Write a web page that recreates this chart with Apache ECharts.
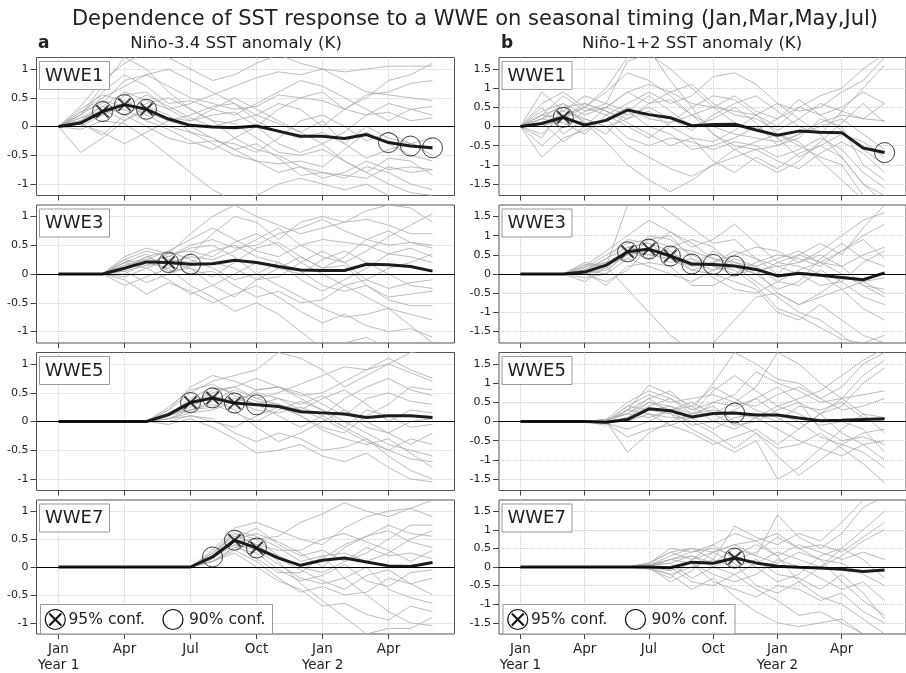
<!DOCTYPE html>
<html>
<head>
<meta charset="utf-8">
<title>Dependence of SST response to a WWE on seasonal timing</title>
<script src="https://cdn.jsdelivr.net/npm/echarts@6/dist/echarts.min.js"></script>
<style>
  html, body { margin: 0; padding: 0; background: #fff; }
  #chart { width: 906px; height: 673px; }
</style>
</head>
<body>
<div id="chart"></div>
<script>
// Month axis: Jan of year 1 through Jun of year 2 (index 0..17)
const months = ['Jan','Feb','Mar','Apr','May','Jun','Jul','Aug','Sep','Oct','Nov','Dec',
                'Jan','Feb','Mar','Apr','May','Jun'];
const xTickValues = [0, 3, 6, 9, 12, 15];
const xTickLabels = ['Jan\nYear 1', 'Apr', 'Jul', 'Oct', 'Jan\nYear 2', 'Apr'];
const yTicksN34 = [-1, -0.5, 0, 0.5, 1];
const yTicksN12 = [-1.5, -1, -0.5, 0, 0.5, 1, 1.5];

// ---------- Niño-3.4, WWE in January ----------
const n34_wwe1_members = [
  [0,0.10,0.35,0.60,0.45,0.30,0.40,0.55,0.70,0.85,0.95,0.90,1.00,0.95,1.00,1.05,1.05,1.05],
  [0,0.20,0.70,1.20,1.00,0.60,0.30,0.10,-0.20,-0.40,-0.50,-0.70,-0.90,-0.80,-0.60,-0.75,-0.70,-0.75],
  [0,-0.45,-0.20,0.10,0.35,0.20,-0.10,-0.30,-0.50,-0.60,-0.65,-0.60,-0.70,-0.40,-0.10,-0.30,-0.50,-0.60],
  [0,0.25,0.40,0.80,0.90,0.70,0.50,0.40,0.30,0.35,0.55,0.50,0.60,0.30,0.20,0.40,0.30,0.20],
  [0,0.05,-0.15,0.20,0.40,0.50,0.30,0.10,0.05,-0.20,-0.45,-0.50,-0.40,-0.60,-0.80,-1.00,-1.15,-1.20],
  [0,0.30,0.55,0.45,0.25,0.10,0.20,0.35,0.40,0.10,-0.10,-0.20,-0.10,-0.30,0.00,-0.20,-0.30,-0.50],
  [0,0.15,0.25,0.30,0.10,-0.05,-0.25,-0.40,-0.20,0.00,0.30,0.50,0.45,0.30,0.55,0.60,0.75,0.80],
  [0,-0.05,0.10,0.05,-0.20,-0.50,-0.80,-1.10,-1.30,-1.20,-1.00,-0.90,-1.00,-1.10,-1.00,-1.20,-1.40,-1.50],
  [0,0.20,0.45,0.35,0.55,0.35,0.15,0.00,0.10,0.20,0.05,-0.10,0.10,-0.30,-0.55,-0.40,-0.30,-0.20],
  [0,0.10,0.20,0.40,0.20,0.00,-0.10,-0.20,-0.40,-0.60,-0.80,-0.70,-0.80,-0.90,-0.70,-0.80,-1.00,-1.10],
  [0,0.35,0.80,1.10,1.30,1.20,1.00,0.80,0.90,1.10,1.25,1.10,1.00,0.80,0.60,0.55,0.50,0.45],
  [0,0.10,0.30,0.10,0.30,0.15,0.10,0.20,0.25,0.00,-0.30,-0.45,-0.30,-0.10,0.20,0.25,0.10,0.15],
  [0,0.05,-0.10,-0.30,-0.10,0.10,0.00,-0.20,-0.40,-0.30,-0.55,-0.85,-0.80,-0.85,-0.90,-0.70,-0.80,-0.75],
  [0,0.20,0.60,0.90,0.70,0.40,0.45,0.30,0.20,0.40,0.60,0.80,0.70,0.50,0.30,0.10,0.30,0.35],
  [0,0.15,0.35,0.20,0.00,-0.20,-0.30,-0.25,-0.30,-0.45,-0.20,0.10,0.20,0.00,-0.25,-0.10,-0.30,-0.40],
  [0,0.00,0.20,0.55,0.60,0.30,0.10,0.30,0.50,0.30,0.10,-0.10,-0.30,-0.60,-0.80,-0.55,-0.60,-0.85],
  [0,0.25,0.50,0.70,0.90,1.00,0.80,0.60,0.40,0.20,0.40,0.30,0.00,0.30,0.50,0.80,0.90,1.10]
];
const n34_wwe1_mean = [0,0.06,0.26,0.38,0.30,0.13,0.02,-0.01,-0.02,0.01,-0.08,-0.17,-0.17,-0.21,-0.14,-0.28,-0.34,-0.37];
const n34_wwe1_c95 = [2, 3, 4];
const n34_wwe1_c90 = [15, 16, 17];

// ---------- Niño-1+2, WWE in January ----------
const n12_wwe1_members = [
  [0,0.90,0.40,0.80,0.60,1.70,1.90,1.50,1.00,0.50,0.40,0.30,0.60,0.20,-0.20,-0.80,-1.50,-2.00],
  [0,-0.80,-0.30,-0.10,0.20,-0.30,-0.50,-0.30,-0.40,-0.60,-0.40,-0.50,-0.80,-0.60,-0.30,-0.60,-1.20,-1.60],
  [0,0.30,0.80,0.40,0.50,0.90,0.60,0.70,0.30,0.50,0.80,0.40,0.20,0.70,0.30,0.50,0.90,0.60],
  [0,0.20,0.10,-0.20,0.30,0.60,0.90,0.60,0.80,1.30,1.40,1.10,0.60,0.40,0.50,0.90,1.20,1.80],
  [0,-0.30,0.50,0.60,0.40,0.10,-0.20,-0.50,-0.30,-0.90,-1.20,-0.80,-1.10,-0.70,-0.50,-0.80,-1.50,-1.80],
  [0,0.10,0.30,0.50,0.90,1.40,1.20,0.80,0.30,0.00,-0.20,-0.30,-0.40,-0.20,0.10,0.30,0.20,0.15],
  [0,0.50,-0.20,0.20,0.00,-0.50,-0.80,-1.10,-1.30,-1.00,-0.60,-0.40,-0.20,-0.50,-0.80,-1.00,-1.80,-2.20],
  [0,0.40,0.60,0.30,0.50,0.30,0.50,0.20,-0.10,0.30,0.60,0.80,0.40,0.00,-0.20,0.40,1.00,1.60],
  [0,-0.50,0.00,0.40,0.60,0.40,0.00,-0.20,-0.60,-0.50,-0.30,0.00,-0.30,-0.80,-0.50,-0.20,-0.40,-0.80],
  [0,0.20,0.40,0.20,0.00,0.20,0.60,0.90,1.10,0.60,0.30,0.20,-0.10,0.20,0.60,0.40,0.20,0.60],
  [0,0.00,0.20,0.50,1.00,1.80,2.00,1.20,0.50,-0.20,-0.50,-0.60,-0.90,-1.10,-0.70,-0.40,-0.70,-1.20],
  [0,0.30,0.50,0.10,-0.40,-1.00,-1.40,-1.70,-1.40,-1.00,-0.80,-0.60,-0.50,-0.20,0.00,0.20,-0.20,-0.60],
  [0,-0.20,0.30,0.00,0.20,0.50,0.20,0.10,0.50,0.80,0.70,0.30,0.00,0.50,0.30,-0.10,-0.60,-1.00],
  [0,0.60,0.90,0.50,0.30,0.00,-0.30,0.10,0.30,-0.20,-0.60,-0.90,-1.20,-0.90,-0.40,0.10,0.60,0.10],
  [0,0.10,-0.40,0.00,0.50,0.90,1.10,0.90,0.60,0.50,0.10,-0.10,0.20,0.50,0.80,1.00,1.50,1.90],
  [0,0.30,0.20,0.60,0.40,0.20,0.40,0.00,-0.30,-0.40,-0.10,0.30,-0.20,-0.40,-0.90,-1.40,-1.90,-2.10],
  [0,0.20,0.60,0.10,-0.20,0.40,0.80,0.40,0.00,0.20,0.50,0.10,-0.50,-0.30,0.20,0.00,-1.00,-1.40]
];
const n12_wwe1_mean = [0,0.08,0.24,0.04,0.16,0.43,0.31,0.23,0.02,0.05,0.06,-0.09,-0.23,-0.12,-0.15,-0.16,-0.56,-0.68];
const n12_wwe1_c95 = [2];
const n12_wwe1_c90 = [17];

// ---------- Niño-3.4, WWE in March ----------
const n34_wwe3_members = [
  [0,0,0,0.30,0.45,0.35,0.70,1.00,1.20,1.00,0.85,0.70,0.80,0.90,0.95,0.85,0.70,0.70],
  [0,0,0,0.15,0.20,0.10,0.35,0.70,1.00,0.90,0.60,0.90,1.00,0.90,1.10,1.20,1.15,0.90],
  [0,0,0,0.25,0.40,0.30,0.50,0.60,0.45,0.50,0.70,0.80,0.95,0.75,0.60,0.50,0.55,0.45],
  [0,0,0,-0.10,-0.35,-0.15,-0.30,-0.50,-0.35,-0.20,-0.40,-0.65,-0.85,-0.70,-0.90,-1.00,-0.95,-1.10],
  [0,0,0,0.20,0.10,0.25,0.20,0.40,0.50,0.30,0.20,-0.10,-0.30,-0.10,0.10,0.35,0.30,0.20],
  [0,0,0,-0.20,-0.05,0.10,-0.20,-0.40,-0.65,-0.50,-0.70,-1.00,-1.30,-1.20,-1.10,-1.30,-1.40,-1.40],
  [0,0,0,0.10,0.30,0.40,0.25,0.10,-0.10,0.00,0.20,0.05,-0.20,-0.30,-0.20,-0.45,-0.55,-0.55],
  [0,0,0,0.05,0.15,0.20,0.30,0.25,0.40,0.60,0.80,0.50,0.30,0.20,0.40,0.65,0.85,1.05],
  [0,0,0,0.20,0.35,0.05,0.10,-0.20,-0.40,-0.10,0.10,0.30,0.10,0.15,-0.20,-0.40,-0.35,-0.30],
  [0,0,0,0.00,0.20,0.30,0.45,0.50,0.30,0.00,-0.20,-0.40,-0.60,-0.75,-0.70,-0.60,-0.70,-0.80],
  [0,0,0,0.15,0.25,0.40,0.60,0.80,0.60,0.40,0.30,0.50,0.60,0.55,0.50,0.35,0.45,0.30],
  [0,0,0,0.05,-0.15,0.00,0.15,0.20,0.10,-0.10,-0.05,0.20,0.40,0.20,-0.10,-0.25,-0.15,-0.10],
  [0,0,0,0.20,0.25,0.20,0.10,-0.05,0.20,0.45,0.55,0.30,0.10,0.30,0.60,0.75,0.55,0.50],
  [0,0,0,0.10,0.30,0.15,0.00,0.05,-0.20,-0.40,-0.30,-0.50,-0.45,-0.20,-0.40,-0.60,-0.90,-1.20],
  [0,0,0,0.25,0.15,0.35,0.40,0.30,0.55,0.70,0.50,0.20,0.00,-0.20,-0.10,0.10,0.20,0.35],
  [0,0,0,-0.05,0.10,-0.10,-0.35,-0.20,0.00,0.20,0.10,0.00,0.25,0.40,0.20,0.00,-0.20,-0.25]
];
const n34_wwe3_mean = [0,0,0,0.10,0.21,0.20,0.17,0.18,0.24,0.20,0.13,0.07,0.06,0.06,0.17,0.16,0.13,0.05];
const n34_wwe3_c95 = [5];
const n34_wwe3_c90 = [6];

// ---------- Niño-1+2, WWE in March ----------
const n12_wwe3_members = [
  [0,0,0,0.20,0.60,1.00,1.40,1.10,0.70,0.90,1.30,0.80,0.30,0.50,0.80,0.50,1.20,1.80],
  [0,0,0,0.00,-0.20,0.10,0.70,1.10,0.80,0.40,0.20,-0.20,-0.60,-1.00,-1.20,-1.60,-2.00,-2.00],
  [0,0,0,0.10,0.40,0.90,0.80,0.60,0.20,0.30,0.60,0.40,0.00,0.50,0.30,0.60,0.90,0.40],
  [0,0,0,-0.20,0.20,0.60,0.50,0.40,0.10,0.00,-0.20,-0.40,-1.00,-1.20,-0.80,-1.20,-1.60,-1.80],
  [0,0,0,0.30,0.20,0.50,1.00,0.90,0.50,0.20,0.00,0.30,0.50,0.40,0.20,0.60,1.00,1.30],
  [0,0,0,0.10,0.00,0.70,0.60,0.50,0.30,0.10,0.40,0.20,-0.20,-0.30,0.10,-0.20,-0.60,-0.80],
  [0,0,0,0.05,-0.30,0.20,0.30,0.20,-0.30,-0.30,0.00,0.10,-0.50,-0.80,-0.60,-0.40,-0.20,-0.50],
  [0,0,0,0.15,0.50,0.80,0.90,0.70,0.60,0.40,0.30,0.20,0.40,0.60,0.30,0.20,0.50,0.70],
  [0,0,0,0.00,0.10,0.50,0.60,0.30,0.40,0.20,0.10,-0.30,-0.90,-1.10,-1.40,-1.70,-1.80,-1.60],
  [0,0,0,0.20,0.30,0.40,0.90,1.00,0.40,-0.10,-0.40,-0.50,-0.20,0.10,0.30,0.00,-0.30,-0.40],
  [0,0,0,0.10,0.40,0.70,0.80,0.40,0.20,0.60,0.30,0.10,0.20,0.00,-0.30,-0.20,0.30,0.60],
  [0,0,0,-0.10,0.00,0.40,0.20,0.00,-0.20,0.10,0.20,0.00,-0.40,-0.20,0.40,0.80,0.40,0.20],
  [0,0,0,0.25,0.20,1.80,2.00,1.60,1.20,0.80,0.90,0.40,0.20,0.30,0.50,0.20,-0.30,-0.60],
  [0,0,0,0.05,0.20,-0.40,-1.00,-1.60,-2.00,-1.80,-1.20,-0.60,-0.50,-0.80,-0.50,-0.10,-0.20,-0.10],
  [0,0,0,0.10,0.30,0.60,0.40,0.70,0.90,0.70,0.20,0.00,0.30,0.20,0.00,-0.40,-0.90,-1.20],
  [0,0,0,0.00,0.15,0.60,0.50,0.50,0.10,0.30,0.50,0.70,0.60,0.30,0.60,1.00,1.40,1.60]
];
const n12_wwe3_mean = [0,0,0,0.05,0.23,0.58,0.65,0.47,0.26,0.25,0.21,0.12,-0.05,0.02,-0.03,-0.09,-0.15,0.03];
const n12_wwe3_c95 = [5, 6, 7];
const n12_wwe3_c90 = [8, 9, 10];

// ---------- Niño-3.4, WWE in May ----------
const n34_wwe5_members = [
  [0,0,0,0,0,0.20,0.50,0.70,0.80,0.90,1.20,1.10,0.90,0.60,0.80,1.00,1.20,1.25],
  [0,0,0,0,0,0.10,0.30,0.55,0.60,0.40,0.50,0.65,0.80,0.95,0.90,1.00,0.85,0.70],
  [0,0,0,0,0,0.15,0.35,0.40,0.30,0.55,0.60,0.50,0.30,0.10,0.40,0.50,0.35,0.30],
  [0,0,0,0,0,-0.05,0.05,-0.10,-0.30,-0.55,-0.50,-0.40,-0.60,-0.70,-0.55,-0.80,-1.00,-1.05],
  [0,0,0,0,0,0.10,0.20,0.30,0.15,0.00,0.20,0.35,0.20,0.00,-0.20,-0.40,-0.50,-0.60],
  [0,0,0,0,0,0.20,0.60,0.80,0.70,0.55,0.60,0.40,0.20,-0.10,-0.30,-0.50,-0.65,-0.70],
  [0,0,0,0,0,0.05,0.20,0.25,0.40,0.30,0.10,-0.10,0.10,0.40,0.60,0.75,0.55,0.45],
  [0,0,0,0,0,0.10,0.40,0.60,0.50,0.35,0.30,0.10,-0.15,-0.30,-0.40,-0.30,-0.55,-0.80],
  [0,0,0,0,0,0.00,0.10,0.05,-0.20,-0.35,-0.20,-0.30,-0.50,-0.45,-0.30,-0.60,-0.85,-1.00],
  [0,0,0,0,0,0.15,0.30,0.50,0.60,0.75,0.60,0.45,0.50,0.70,0.90,1.10,0.90,0.75],
  [0,0,0,0,0,0.10,0.25,0.45,0.35,0.20,0.15,0.25,0.10,-0.10,0.20,0.10,-0.10,-0.05],
  [0,0,0,0,0,0.05,0.15,0.20,0.35,0.50,0.40,0.20,0.40,0.55,0.30,0.00,0.20,0.15],
  [0,0,0,0,0,0.25,0.55,0.65,0.45,0.30,0.40,0.30,0.45,0.20,-0.10,-0.20,0.00,0.05],
  [0,0,0,0,0,0.05,0.10,0.00,-0.10,0.10,0.25,0.10,-0.10,-0.20,0.10,0.30,0.60,0.55],
  [0,0,0,0,0,0.10,0.30,0.40,0.20,-0.10,-0.35,-0.20,0.00,0.20,0.00,-0.20,-0.40,-0.20],
  [0,0,0,0,0,0.15,0.20,0.35,0.55,0.40,0.30,0.20,0.05,-0.15,-0.35,-0.50,-0.30,-0.40]
];
const n34_wwe5_mean = [0,0,0,0,0,0.12,0.33,0.41,0.32,0.29,0.26,0.17,0.15,0.13,0.07,0.10,0.10,0.07];
const n34_wwe5_c95 = [6, 7, 8];
const n34_wwe5_c90 = [9];

// ---------- Niño-1+2, WWE in May ----------
const n12_wwe5_members = [
  [0,0,0,0,-0.10,0.30,0.95,0.70,0.40,0.90,0.60,0.30,0.10,-0.20,0.20,0.60,1.20,1.60],
  [0,0,0,0,0.05,0.50,0.80,0.60,0.30,0.50,0.40,0.60,0.90,0.50,0.20,0.40,1.00,1.40],
  [0,0,0,0,-0.05,-0.40,-0.20,-0.10,-0.30,-0.60,-0.40,-0.20,-0.60,-0.20,0.20,-0.30,-0.60,-1.00],
  [0,0,0,0,0.00,-0.80,-0.30,0.00,0.20,0.40,0.00,-0.30,-0.70,-0.60,-0.30,-0.70,-1.10,-1.60],
  [0,0,0,0,0.05,0.20,0.50,0.40,0.20,0.80,1.20,0.80,0.40,0.60,0.80,1.20,1.60,1.90],
  [0,0,0,0,-0.05,0.10,0.30,0.20,0.00,-0.30,-0.70,-0.30,-0.90,-1.40,-1.00,-0.60,-0.30,-0.20],
  [0,0,0,0,0.00,0.40,0.70,0.50,0.60,0.70,0.50,0.40,0.70,0.90,0.60,0.30,0.40,0.60],
  [0,0,0,0,0.05,0.20,0.10,0.30,-0.10,0.00,0.30,0.60,0.20,0.00,-0.40,-0.60,-0.80,-1.20],
  [0,0,0,0,-0.05,0.10,0.40,0.60,0.20,0.30,0.20,0.10,-0.20,-0.50,-0.70,-0.20,0.20,0.10],
  [0,0,0,0,0.00,0.30,0.60,0.20,-0.20,-0.50,-0.80,-0.50,-1.50,-1.20,-0.70,-0.90,-0.60,-0.50],
  [0,0,0,0,0.05,0.00,0.20,-0.10,0.10,0.50,0.70,1.30,1.00,0.80,0.50,0.60,0.70,0.80],
  [0,0,0,0,0.00,0.40,0.30,0.40,0.10,0.20,0.50,0.90,1.80,1.50,1.00,0.60,0.20,-0.30],
  [0,0,0,0,-0.05,-0.20,0.00,0.30,0.50,0.20,-0.10,0.00,0.30,0.50,-0.20,-0.50,-0.40,-0.60],
  [0,0,0,0,0.05,0.20,0.60,0.80,0.30,1.00,1.80,1.50,1.10,1.00,0.60,0.90,1.50,1.80],
  [0,0,0,0,0.00,0.10,0.50,0.30,0.40,0.00,-0.20,0.10,0.40,0.20,-0.10,0.00,-0.20,-0.80],
  [0,0,0,0,0.00,0.30,0.20,0.10,0.10,-0.20,0.10,0.20,0.00,0.40,0.30,0.50,0.10,0.00]
];
const n12_wwe5_mean = [0,0,0,0,-0.02,0.05,0.33,0.28,0.12,0.21,0.22,0.17,0.17,0.09,0.02,0.03,0.05,0.07];
const n12_wwe5_c95 = [];
const n12_wwe5_c90 = [10];

// ---------- Niño-3.4, WWE in July ----------
const n34_wwe7_members = [
  [0,0,0,0,0,0,0,0.30,0.70,0.80,0.65,0.50,0.40,0.70,0.90,1.00,1.05,1.20],
  [0,0,0,0,0,0,0,0.25,0.60,0.50,0.55,0.80,0.95,1.15,1.00,0.90,1.05,0.90],
  [0,0,0,0,0,0,0,0.20,0.45,0.35,0.20,0.00,0.15,0.40,0.55,0.65,0.45,0.35],
  [0,0,0,0,0,0,0,0.10,0.30,0.10,-0.20,-0.45,-0.35,-0.50,-0.45,-0.20,-0.30,-0.50],
  [0,0,0,0,0,0,0,0.15,0.50,0.70,0.40,0.20,0.30,0.10,0.25,0.50,0.75,0.75],
  [0,0,0,0,0,0,0,0.20,0.40,0.15,-0.10,-0.10,0.20,-0.20,-0.50,-0.80,-1.00,-1.05],
  [0,0,0,0,0,0,0,0.10,0.35,0.40,0.10,-0.30,-0.60,-0.90,-1.20,-1.10,-1.10,-0.90],
  [0,0,0,0,0,0,0,0.25,0.55,0.40,0.30,0.30,0.50,0.60,0.45,0.30,0.10,0.30],
  [0,0,0,0,0,0,0,0.15,0.45,0.50,0.20,0.00,-0.10,0.10,0.35,0.20,0.25,0.15],
  [0,0,0,0,0,0,0,0.20,0.60,0.40,0.15,-0.05,-0.25,-0.40,-0.15,-0.05,-0.30,-0.20],
  [0,0,0,0,0,0,0,0.10,0.25,0.00,-0.25,-0.40,-0.70,-0.65,-0.85,-0.95,-0.70,-0.80],
  [0,0,0,0,0,0,0,0.20,0.50,0.60,0.45,0.25,0.00,0.35,0.55,0.75,0.60,0.55],
  [0,0,0,0,0,0,0,0.15,0.40,0.30,0.05,-0.20,-0.30,-0.20,0.00,-0.40,-0.55,-0.65],
  [0,0,0,0,0,0,0,0.25,0.65,0.55,0.35,0.10,0.20,0.25,0.10,0.25,0.50,0.65],
  [0,0,0,0,0,0,0,0.10,0.35,0.25,-0.05,-0.25,-0.15,0.05,-0.25,-0.35,-0.10,-0.05]
];
const n34_wwe7_mean = [0,0,0,0,0,0,0,0.18,0.48,0.34,0.16,0.03,0.12,0.16,0.09,0.02,0.01,0.08];
const n34_wwe7_c95 = [8, 9];
const n34_wwe7_c90 = [7];

// ---------- Niño-1+2, WWE in July ----------
const n12_wwe7_members = [
  [0,0,0,0,0,0,0.10,0.40,0.50,0.20,1.10,0.80,0.60,0.90,0.70,1.20,1.80,2.00],
  [0,0,0,0,0,0,-0.05,-0.30,0.20,0.40,0.60,0.30,1.40,0.80,0.50,0.90,1.60,1.90],
  [0,0,0,0,0,0,0.05,0.20,0.40,0.50,0.30,0.00,-0.40,-0.20,0.30,0.50,1.00,1.50],
  [0,0,0,0,0,0,0.00,-0.20,-0.60,-0.30,-0.80,-1.20,-1.50,-1.60,-1.50,-1.40,-1.80,-2.00],
  [0,0,0,0,0,0,0.10,0.50,0.40,0.60,0.20,0.40,0.80,0.50,0.20,0.10,-0.20,-0.50],
  [0,0,0,0,0,0,0.05,0.10,-0.30,0.00,0.30,0.60,0.30,-0.40,-0.80,-1.00,-1.40,-1.80],
  [0,0,0,0,0,0,0.00,-0.40,-0.10,0.40,0.10,-0.50,-0.70,-0.40,0.00,0.30,0.70,1.00],
  [0,0,0,0,0,0,0.05,0.30,0.50,0.40,0.60,0.70,0.90,0.50,0.60,0.40,0.80,1.20],
  [0,0,0,0,0,0,-0.05,0.00,-0.40,-0.50,-0.20,-0.60,-0.90,-1.30,-1.20,-1.50,-1.80,-2.10],
  [0,0,0,0,0,0,0.05,0.20,0.30,0.10,0.50,0.30,0.10,0.40,0.20,-0.40,-0.90,-1.30],
  [0,0,0,0,0,0,0.00,-0.10,0.10,-0.20,-0.40,-0.20,0.20,0.00,-0.30,-0.60,-0.40,-0.90],
  [0,0,0,0,0,0,0.10,0.40,0.20,0.60,0.90,0.70,0.30,0.60,0.40,0.20,0.40,0.20],
  [0,0,0,0,0,0,-0.05,-0.20,0.00,0.20,0.00,0.20,-0.20,-0.30,-0.60,-0.20,-0.70,-1.40],
  [0,0,0,0,0,0,0.05,0.10,0.30,0.00,-0.20,0.10,0.40,0.20,0.00,0.50,0.20,-0.30],
  [0,0,0,0,0,0,0.00,0.20,0.10,-0.40,-0.60,-0.80,-0.50,-0.60,-0.90,-0.70,-1.20,-1.50]
];
const n12_wwe7_mean = [0,0,0,0,0,0,0,-0.02,0.13,0.10,0.24,0.11,0.02,-0.01,-0.03,-0.06,-0.12,-0.08];
const n12_wwe7_c95 = [10];
const n12_wwe7_c90 = [];

// ---------- Layout ----------
const FONT = 'DejaVu Sans';
const TEXT = '#222';
const colLeft = [36.5, 499];
const plotWidth = 418;
const rowTop = [57.5, 205, 352.5, 500];
const plotHeight = 138;

const panels = [
  { col: 0, row: 0, name: 'WWE1', members: n34_wwe1_members, mean: n34_wwe1_mean, c95: n34_wwe1_c95, c90: n34_wwe1_c90 },
  { col: 1, row: 0, name: 'WWE1', members: n12_wwe1_members, mean: n12_wwe1_mean, c95: n12_wwe1_c95, c90: n12_wwe1_c90 },
  { col: 0, row: 1, name: 'WWE3', members: n34_wwe3_members, mean: n34_wwe3_mean, c95: n34_wwe3_c95, c90: n34_wwe3_c90 },
  { col: 1, row: 1, name: 'WWE3', members: n12_wwe3_members, mean: n12_wwe3_mean, c95: n12_wwe3_c95, c90: n12_wwe3_c90 },
  { col: 0, row: 2, name: 'WWE5', members: n34_wwe5_members, mean: n34_wwe5_mean, c95: n34_wwe5_c95, c90: n34_wwe5_c90 },
  { col: 1, row: 2, name: 'WWE5', members: n12_wwe5_members, mean: n12_wwe5_mean, c95: n12_wwe5_c95, c90: n12_wwe5_c90 },
  { col: 0, row: 3, name: 'WWE7', members: n34_wwe7_members, mean: n34_wwe7_mean, c95: n34_wwe7_c95, c90: n34_wwe7_c90 },
  { col: 1, row: 3, name: 'WWE7', members: n12_wwe7_members, mean: n12_wwe7_mean, c95: n12_wwe7_c95, c90: n12_wwe7_c90 }
];

const toPoints = arr => arr.map((v, i) => [i, v]);
const atMonths = (mean, idx) => idx.map(i => [i, mean[i]]);

const gridLine = { show: true, lineStyle: { color: '#cfcfcf', type: 'dotted', width: 1 } };

const grids = [], xAxes = [], yAxes = [], series = [], graphics = [];

panels.forEach((p, k) => {
  const left = colLeft[p.col], top = rowTop[p.row];
  const yMax = p.col === 0 ? 1.2 : 1.8;
  const yTicks = p.col === 0 ? yTicksN34 : yTicksN12;

  grids.push({ left: left, top: top, width: plotWidth, height: plotHeight,
               show: true, borderColor: '#555', borderWidth: 1, backgroundColor: 'transparent' });

  xAxes.push({
    gridIndex: k, type: 'value', min: -1, max: 18,
    axisLine: { show: false, onZero: false },
    axisTick: { show: true, length: 5, customValues: xTickValues, lineStyle: { color: '#444' } },
    axisLabel: {
      show: p.row === 3, customValues: xTickValues,
      formatter: v => xTickLabels[xTickValues.indexOf(v)],
      fontFamily: FONT, fontSize: 13.5, color: TEXT, margin: 8, lineHeight: 15.5
    },
    splitLine: gridLine
  });

  yAxes.push({
    gridIndex: k, type: 'value', min: -yMax, max: yMax,
    axisLine: { show: false, onZero: false },
    axisTick: { show: true, length: 6, customValues: yTicks, lineStyle: { color: '#444' } },
    axisLabel: { customValues: yTicks, formatter: v => String(v),
                 fontFamily: FONT, fontSize: 11, color: TEXT, margin: 8 },
    splitLine: gridLine
  });

  // ensemble members
  p.members.forEach(m => {
    series.push({
      type: 'line', xAxisIndex: k, yAxisIndex: k, data: toPoints(m),
      symbol: 'none', silent: true, z: 1,
      lineStyle: { color: '#ababab', width: 0.8 }
    });
  });

  // ensemble mean with zero reference line
  series.push({
    type: 'line', xAxisIndex: k, yAxisIndex: k, data: toPoints(p.mean),
    symbol: 'none', silent: true, z: 4,
    lineStyle: { color: '#1c1c1c', width: 3 },
    markLine: {
      silent: true, symbol: 'none', label: { show: false },
      lineStyle: { color: '#000', width: 1, type: 'solid' },
      data: [{ yAxis: 0 }]
    }
  });

  // significance markers: circles for both levels, crosses for 95%
  const ring = atMonths(p.mean, p.c95.concat(p.c90));
  series.push({
    type: 'scatter', xAxisIndex: k, yAxisIndex: k, data: ring,
    symbol: 'circle', symbolSize: 20, silent: true, z: 5,
    itemStyle: { color: 'transparent', borderColor: '#111', borderWidth: 1 }
  });
  series.push({
    type: 'scatter', xAxisIndex: k, yAxisIndex: k, data: atMonths(p.mean, p.c95),
    symbol: 'path://M0,0L10,10M10,0L0,10', symbolSize: 12.5, silent: true, z: 5,
    itemStyle: { color: 'transparent', borderColor: '#111', borderWidth: 2 }
  });

  // panel tag box
  graphics.push({
    type: 'rect', z: 100,
    shape: { x: left + 3, y: top + 4, width: 70, height: 28 },
    style: { fill: 'rgba(255,255,255,0.85)', stroke: '#9a9a9a', lineWidth: 1 }
  });
  graphics.push({
    type: 'text', z: 101, x: left + 8.5, y: top + 18.5,
    style: { text: p.name, fontFamily: FONT, fontSize: 18, fill: TEXT,
             align: 'left', verticalAlign: 'middle' }
  });

  // confidence key in the bottom row
  if (p.row === 3) {
    const bx = left + 4, by = top + 104.5;
    graphics.push({
      type: 'rect', z: 100,
      shape: { x: bx, y: by, width: 232, height: 29.5 },
      style: { fill: 'rgba(255,255,255,0.85)', stroke: '#9a9a9a', lineWidth: 1 }
    });
    const cy = by + 15;
    graphics.push({ type: 'circle', z: 101, shape: { cx: bx + 14.8, cy: cy, r: 10 },
                    style: { fill: 'none', stroke: '#111', lineWidth: 1.2 } });
    graphics.push({ type: 'line', z: 101, shape: { x1: bx + 8.8, y1: cy - 6, x2: bx + 20.8, y2: cy + 6 },
                    style: { stroke: '#111', lineWidth: 2 } });
    graphics.push({ type: 'line', z: 101, shape: { x1: bx + 20.8, y1: cy - 6, x2: bx + 8.8, y2: cy + 6 },
                    style: { stroke: '#111', lineWidth: 2 } });
    graphics.push({ type: 'text', z: 101, x: bx + 28, y: cy,
                    style: { text: '95% conf.', fontFamily: FONT, fontSize: 15.5, fill: TEXT,
                             align: 'left', verticalAlign: 'middle' } });
    graphics.push({ type: 'circle', z: 101, shape: { cx: bx + 132.5, cy: cy, r: 10 },
                    style: { fill: 'none', stroke: '#111', lineWidth: 1.2 } });
    graphics.push({ type: 'text', z: 101, x: bx + 148.5, y: cy,
                    style: { text: '90% conf.', fontFamily: FONT, fontSize: 15.5, fill: TEXT,
                             align: 'left', verticalAlign: 'middle' } });
  }
});

// figure title and column headings
graphics.push({ type: 'text', z: 101, x: 475, y: 20,
  style: { text: 'Dependence of SST response to a WWE on seasonal timing (Jan,Mar,May,Jul)',
           fontFamily: FONT, fontSize: 21, fill: TEXT, align: 'center', verticalAlign: 'middle' } });
graphics.push({ type: 'text', z: 101, x: 38, y: 44,
  style: { text: 'a', fontFamily: FONT, fontSize: 17, fontWeight: 'bold', fill: TEXT,
           align: 'left', verticalAlign: 'middle' } });
graphics.push({ type: 'text', z: 101, x: 236, y: 43.5,
  style: { text: 'Niño-3.4 SST anomaly (K)', fontFamily: FONT, fontSize: 16.5, fill: TEXT,
           align: 'center', verticalAlign: 'middle' } });
graphics.push({ type: 'text', z: 101, x: 501, y: 44,
  style: { text: 'b', fontFamily: FONT, fontSize: 17, fontWeight: 'bold', fill: TEXT,
           align: 'left', verticalAlign: 'middle' } });
graphics.push({ type: 'text', z: 101, x: 692, y: 43.5,
  style: { text: 'Niño-1+2 SST anomaly (K)', fontFamily: FONT, fontSize: 16.5, fill: TEXT,
           align: 'center', verticalAlign: 'middle' } });

const chart = echarts.init(document.getElementById('chart'), null, { renderer: 'canvas' });
chart.setOption({
  animation: false,
  backgroundColor: '#fff',
  grid: grids,
  xAxis: xAxes,
  yAxis: yAxes,
  series: series,
  graphic: { elements: graphics }
});
</script>
</body>
</html>
